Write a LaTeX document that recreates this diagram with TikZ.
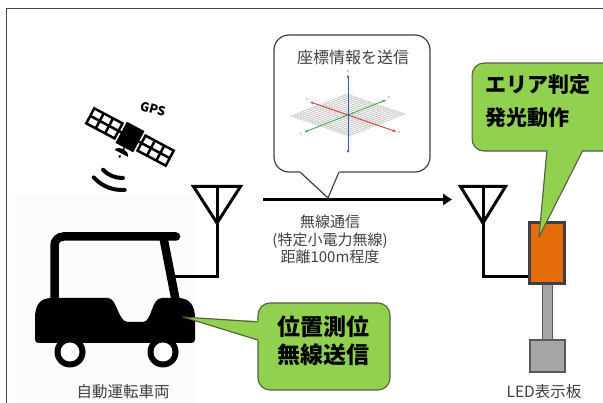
\documentclass[tikz,border=0pt]{standalone}
\usepackage{fontspec}
\setmainfont{Noto Sans CJK JP}
\usetikzlibrary{arrows.meta}

\definecolor{framegray}{RGB}{70,70,70}
\definecolor{labelgray}{RGB}{64,64,64}
\definecolor{notegreen}{RGB}{146,208,80}
\definecolor{noteedge}{RGB}{80,96,64}
\definecolor{ledorange}{RGB}{228,108,10}
\definecolor{poledark}{RGB}{90,90,90}
\definecolor{polegray}{RGB}{166,166,166}
\definecolor{carback}{RGB}{251,251,251}
\definecolor{gridline}{RGB}{185,185,185}
\definecolor{axisred}{RGB}{220,60,60}
\definecolor{axisgreen}{RGB}{60,170,80}
\definecolor{axisblue}{RGB}{50,90,190}

\begin{document}
\begin{tikzpicture}[x=1pt,y=-1pt,
  lbl/.style={text=labelgray, inner sep=0pt, align=center,
    font=\fontsize{15}{17.5}\selectfont},
  notetext/.style={inner sep=0pt, align=left, text=black},
  greenbox/.style={draw=noteedge, line width=1.1pt, fill=notegreen,
    rounded corners=12pt, inner sep=0pt},
  infobox/.style={draw=labelgray, line width=1.2pt, fill=white,
    rounded corners=15pt, inner sep=0pt},
  wire/.style={line width=3pt, black},
  antenna/.style={line width=3pt, black, line join=miter},
  sigarc/.style={line width=4pt, line cap=round, black},
  panel/.style={draw=black, line width=2.5pt, fill=white},
  axisline/.style={line width=0.9pt, {Stealth[length=3.2pt,width=2.8pt]}-{Stealth[length=3.2pt,width=2.8pt]}},
  ticklbl/.style={font=\fontsize{3.5}{4}\selectfont, inner sep=0pt}
]
\useasboundingbox (0,0) rectangle (603,403);
\begin{scope}
\clip (0,0) rectangle (603,403);

% outer frame (only its top and left sides fall inside the page)
\draw[framegray, line width=1.1pt] (6.5,500) -- (6.5,8.5) -- (700,8.5);

% pale panel behind the vehicle
\fill[carback] (15,195) rectangle (195,403);

% ---------------- GPS satellite ----------------
\node[font=\fontsize{12.5}{13}\selectfont\bfseries, rotate=-15, inner sep=0pt] (gpslbl) at (153,109) {GPS};
\begin{scope}[shift={(130,137)}, rotate=-28]
  \draw[panel] (-45,-8.5) rectangle (-13,8.5);
  \draw[black, line width=2.5pt] (-34.3,-8.5) -- (-34.3,8.5) (-23.7,-8.5) -- (-23.7,8.5) (-45,0) -- (-13,0);
  \draw[panel] (13,-8.5) rectangle (45,8.5);
  \draw[black, line width=2.5pt] (23.7,-8.5) -- (23.7,8.5) (34.3,-8.5) -- (34.3,8.5) (13,0) -- (45,0);
  \draw[black, line width=2.5pt] (-13,0) -- (13,0);
  \fill[black] (-10,-12) rectangle (10,12);
  \draw[black, line width=1.5pt] (0,12) -- (0,14.5);
  \fill[black] (-7.5,18.5) .. controls (-6.5,12.5) and (6.5,12.5) .. (7.5,18.5) -- cycle;
  \fill[black] (0,22) circle (1.5);
\end{scope}
% signal waves
\coordinate (dish) at (122,152);
\draw[sigarc] (dish) ++(88:26) arc[start angle=88, end angle=137, radius=26];
\draw[sigarc] (dish) ++(86:38) arc[start angle=86, end angle=138, radius=38];

% ---------------- vehicle ----------------
\draw[line width=8.5pt, line cap=round, rounded corners=9pt] (54.5,305) -- (54.5,236.5) -- (176,236.5);
\draw[line width=8.5pt] (163.5,238) -- (176,302);
\fill[black] (35,339) -- (35,318) .. controls (35,305) and (40,298) .. (52,298)
  -- (108,298) .. controls (117,298) and (118,322) .. (128,322)
  -- (143,322) .. controls (152,322) and (151,298) .. (162,298)
  -- (178,298) .. controls (190,298) and (195,306) .. (195,318)
  -- (195,339) .. controls (195,342) and (194,343) .. (191,343)
  -- (39,343) .. controls (36,343) and (35,342) .. (35,339) -- cycle;
\fill[black] (70,352) circle (15.5);
\fill[white] (70,352) circle (9.5);
\fill[black] (163,352) circle (15.5);
\fill[white] (163,352) circle (9.5);
\coordinate (pillar) at (171.4,277);
\node[lbl, font=\fontsize{15.5}{17}\selectfont] (carlbl) at (123,392) {自動運転車両};

% ---------------- antennas and link ----------------
\coordinate (antLtop) at (217,186.5);
\coordinate (antLtip) at (217,223);
\coordinate (antLfoot) at (217,277);
\draw[antenna] (193.5,186.5) -- (240.5,186.5) -- (antLtip) -- cycle;
\draw[wire] (antLtop) -- (antLfoot) -- (pillar);

\coordinate (antRtop) at (483,186.5);
\coordinate (antRtip) at (483,223);
\coordinate (antRfoot) at (483,277);
\draw[antenna] (460.5,186.5) -- (505.5,186.5) -- (antRtip) -- cycle;

% LED display board
\node[draw=poledark, line width=1pt, fill=polegray, minimum width=10pt, minimum height=55pt, inner sep=0pt] (pole) at (547,312) {};
\node[draw=poledark, line width=1.2pt, fill=polegray, minimum width=35pt, minimum height=32pt, inner sep=0pt] (base) at (547.5,356) {};
\node[draw=labelgray, line width=3pt, fill=ledorange, minimum width=35pt, minimum height=61pt, inner sep=0pt] (led) at (547,253.5) {};
\draw[wire] (antRtop) -- (antRfoot) -- (antRfoot -| led.west);
\node[lbl, font=\fontsize{15.5}{17}\selectfont] (ledlbl) at (544,392) {LED表示板};

% radio link arrow
\coordinate (txA) at (263,199.5);
\coordinate (txB) at (452,199.5);
\draw[line width=3.6pt, -{Triangle[length=9pt,width=11pt]}] (txA) -- (txB);
\node[lbl] (linklbl) at (330,239.5) {無線通信\\(特定小電力無線)\\距離100m程度};

% ---------------- coordinate callout ----------------
\node[infobox, minimum width=156pt, minimum height=137pt] (info) at (352,103.5) {};
\fill[white] (299,170.6) -- (328,198) -- (340,170.6) -- cycle;
\draw[labelgray, line width=1.2pt, line join=round] (300,172) -- (328,198) -- (339,172);
\node[lbl, font=\fontsize{16}{18}\selectfont] (infolbl) at (353,57) {座標情報を送信};

% small 3-D axis sketch
\begin{scope}[shift={(348,115)}]
  \foreach \i in {-10,...,10} {
    \draw[gridline, line width=0.35pt] ({29*\i/10-28},{10*\i/10+11}) -- ({29*\i/10+28},{10*\i/10-11});
    \draw[gridline, line width=0.35pt] ({28*\i/10-29},{-11*\i/10-10}) -- ({28*\i/10+29},{-11*\i/10+10});
  }
  \draw[axisline, axisred] (-37.7,-13) -- (47.9,16.5);
  \draw[axisline, axisgreen] (-43.4,17) -- (37.8,-14.9);
  \draw[axisline, axisblue] (0,-40) -- (0,38);
  \node[ticklbl, text=axisred] at (-41,-15) {x};
  \node[ticklbl, text=axisred] at (51,18) {x};
  \node[ticklbl, text=axisgreen] at (-47,19) {y};
  \node[ticklbl, text=axisgreen] at (41,-17) {y};
  \node[ticklbl, text=axisblue] at (0,-43) {z};
\end{scope}

% ---------------- green notes ----------------
\node[greenbox, minimum width=146pt, minimum height=88pt, anchor=north west] (areanote) at (471.5,62.5) {};
\fill[notegreen] (546.5,148.5) -- (539,237) -- (583.5,148.5) -- cycle;
\draw[noteedge, line width=1.1pt, line join=round] (547,150) -- (539,237) -- (583,150);
\node[notetext, anchor=west, font=\fontsize{21}{33}\selectfont\bfseries] (areatxt) at (485,101.5) {エリア判定\\発光動作};

\node[greenbox, minimum width=132pt, minimum height=87pt] (posnote) at (324,346.5) {};
\fill[notegreen] (259.5,321) -- (183,317) -- (259.5,341) -- cycle;
\draw[noteedge, line width=1.1pt, line join=round] (258,322) -- (183,317) -- (258,340);
\node[notetext, align=center, font=\fontsize{23}{28}\selectfont\bfseries] (postxt) at (323,341) {位置測位\\無線送信};
\end{scope}
\end{tikzpicture}
\end{document}
